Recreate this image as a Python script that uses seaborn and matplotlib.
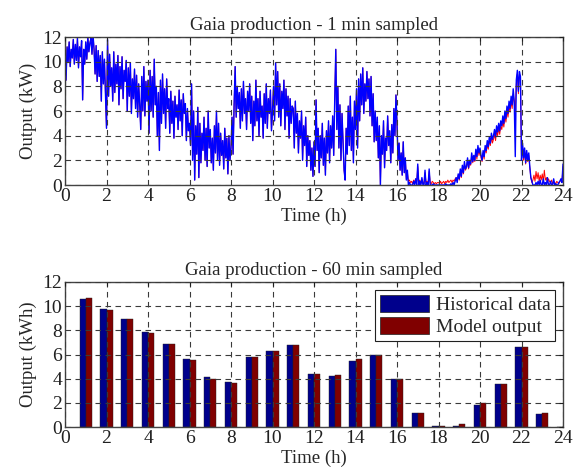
import numpy as np
import pandas as pd
import matplotlib
matplotlib.use("Agg")
import matplotlib.pyplot as plt
from matplotlib.patches import Patch
import seaborn as sns

# ---------------- data ----------------
# 1-min sampled production, every 0.05 h (3 min)
time_h = np.arange(481) / 20.0

historical_kw = [
    10.5, 8.5, 11.2, 10.0, 11.6, 9.6, 11.0, 10.3, 11.8, 9.8, 11.4, 10.1, 11.9, 9.5, 11.2, 10.4, 11.7, 6.9, 11.0, 9.8,   # 0
    11.6, 10.2, 12.0, 10.8, 11.5, 11.9, 10.6, 12.2, 11.0, 9.0, 11.3, 8.4, 10.9, 8.8, 10.5, 6.8, 10.8, 8.2, 10.2, 7.5,  # 1
    4.6, 11.8, 7.2, 10.6, 8.0, 9.5, 6.8, 10.8, 7.5, 9.8, 8.2, 10.5, 6.5, 9.6, 7.8, 10.4, 7.0, 9.3, 8.4, 10.1,          # 2
    6.0, 9.5, 7.2, 9.9, 5.8, 8.6, 7.0, 9.4, 6.2, 8.9, 5.5, 8.2, 6.5, 4.5, 8.8, 6.0, 9.6, 5.6, 8.4, 6.8,                # 3
    8.5, 4.2, 9.3, 6.0, 8.8, 5.5, 10.2, 6.5, 8.0, 4.0, 7.5, 2.8, 8.5, 5.0, 9.0, 5.8, 7.8, 4.6, 8.6, 6.2,               # 4
    7.0, 4.2, 7.6, 5.0, 6.8, 3.8, 7.2, 5.5, 6.5, 4.5, 7.7, 5.2, 6.9, 4.0, 7.4, 5.8, 6.6, 3.6, 6.2, 4.4,                # 5
    5.0, 3.2, 8.2, 2.0, 6.0, 0.4, 4.8, 2.5, 6.3, 0.6, 5.0, 1.8, 4.2, 2.8, 5.5, 2.0, 4.6, 1.5, 6.0, 3.0,                # 6
    4.5, 1.8, 3.8, 1.2, 4.8, 2.6, 6.0, 2.0, 5.0, 1.6, 4.2, 2.4, 3.6, 1.3, 4.6, 2.2, 3.8, 0.9, 4.0, 2.0,                # 7
    3.0, 5.5, 2.5, 6.5, 9.6, 5.5, 8.0, 6.2, 7.5, 4.6, 7.8, 5.2, 8.4, 5.8, 7.0, 4.5, 7.6, 6.0, 8.2, 5.0,                # 8
    7.2, 3.6, 6.8, 4.8, 8.5, 5.2, 7.0, 4.0, 7.6, 5.5, 6.4, 3.8, 7.4, 5.0, 8.2, 4.6, 7.0, 5.8, 7.7, 4.4,                # 9
    6.0, 8.0, 5.2, 9.9, 6.5, 9.2, 5.5, 8.2, 4.8, 7.6, 6.2, 8.5, 4.5, 7.8, 5.6, 7.2, 3.8, 7.0, 5.0, 6.4,                # 10
    6.2, 3.0, 6.8, 4.2, 5.8, 2.6, 5.2, 3.8, 6.0, 2.0, 4.8, 3.2, 5.5, 1.5, 4.0, 2.4, 3.6, 1.2, 3.0, 0.7,                # 11
    3.5, 1.5, 6.9, 2.8, 4.6, 1.0, 4.0, 2.2, 5.0, 1.6, 3.8, 0.8, 4.4, 2.6, 5.2, 1.8, 4.8, 3.0, 5.6, 2.4,                # 12
    7.0, 11.0, 4.5, 8.0, 3.0, 6.5, 2.0, 5.8, 3.6, 1.2, 0.4, 4.6, 2.5, 6.4, 3.2, 7.2, 2.8, 5.5, 1.8, 6.8,               # 13
    4.5, 7.8, 3.0, 8.6, 5.2, 9.0, 6.5, 9.5, 5.8, 8.2, 6.8, 9.2, 7.0, 8.6, 5.6, 8.8, 4.8, 7.4, 3.5, 6.0,                # 14
    3.6, 5.5, 2.2, 4.8, 0.0, 4.0, 2.5, 5.2, 1.4, 3.8, 2.8, 5.6, 3.2, 4.4, 1.8, 4.9, 2.6, 6.2, 4.0, 7.3,                # 15
    5.0, 2.0, 3.4, 1.2, 2.6, 0.8, 3.5, 1.0, 2.2, 0.4, 1.2, 0.0, 0.2, 0.0, 0.0, 0.0, 0.3, 0.0, 0.5, 0.0,                # 16
    1.7, 0.0, 0.3, 0.0, 0.6, 0.0, 0.0, 1.2, 0.0, 0.2, 0.0, 1.3, 0.0, 0.0, 0.0, 0.1, 0.0, 0.0, 0.0, 0.0,                # 17
    0.0, 0.0, 0.0, 0.0, 0.0, 0.0, 0.0, 0.1, 0.0, 0.0, 0.0, 0.0, 0.1, 0.0, 0.2, 0.0, 0.3, 0.6, 0.2, 0.9,                # 18
    0.5, 1.3, 0.7, 1.6, 1.0, 1.9, 1.3, 1.5, 2.2, 1.4, 2.0, 1.7, 2.6, 1.9, 2.4, 2.0, 2.9, 2.3, 3.2, 2.6,                # 19
    3.0, 2.4, 2.0, 2.8, 2.3, 3.2, 2.8, 3.6, 3.1, 3.9, 3.4, 4.2, 3.7, 4.0, 4.5, 3.9, 4.8, 4.3, 5.0, 4.4,                # 20
    5.2, 4.8, 5.6, 5.0, 6.0, 5.4, 6.4, 5.8, 6.8, 6.2, 7.2, 6.5, 7.8, 6.8, 2.3, 8.5, 9.3, 7.6, 9.2, 8.8,                # 21
    2.0, 3.4, 2.2, 3.0, 1.8, 2.8, 2.0, 2.6, 1.5, 0.6, 0.3, 0.0, 0.0, 0.0, 0.2, 0.0, 0.3, 0.0, 0.4, 0.0,                # 22
    0.0, 0.5, 0.0, 0.2, 0.0, 0.6, 0.0, 0.0, 0.3, 0.0, 0.0, 0.5, 0.0, 0.1, 0.0, 0.0, 0.2, 0.3, 0.5, 0.2,                # 23
    1.7,
]

model_kw = [
    10.5, 8.5, 11.2, 10.0, 11.6, 9.6, 11.0, 10.3, 11.8, 9.8, 11.4, 10.1, 11.9, 9.5, 11.2, 10.4, 11.7, 6.9, 11.0, 9.8,
    11.6, 10.2, 12.0, 10.8, 11.5, 11.9, 10.6, 12.2, 11.0, 9.0, 11.3, 8.4, 10.9, 8.8, 10.5, 6.8, 10.8, 8.2, 10.2, 7.5,
    4.6, 11.8, 7.2, 10.6, 8.0, 9.5, 6.8, 10.8, 7.5, 9.8, 8.2, 10.5, 6.5, 9.6, 7.8, 10.4, 7.0, 9.3, 8.4, 10.1,
    6.0, 9.5, 7.2, 9.9, 5.8, 8.6, 7.0, 9.4, 6.2, 8.9, 5.5, 8.2, 6.5, 4.5, 8.8, 6.0, 9.6, 5.6, 8.4, 6.8,
    8.5, 4.2, 9.3, 6.0, 8.8, 5.5, 10.2, 6.5, 8.0, 4.0, 7.5, 2.8, 8.5, 5.0, 9.0, 5.8, 7.8, 4.6, 8.6, 6.2,
    7.0, 4.2, 7.6, 5.0, 6.8, 3.8, 7.2, 5.5, 6.5, 4.5, 7.7, 5.2, 6.9, 4.0, 7.4, 5.8, 6.6, 3.6, 6.2, 4.4,
    5.0, 3.2, 8.2, 2.0, 6.0, 0.4, 4.8, 2.5, 6.3, 0.6, 5.0, 1.8, 4.2, 2.8, 5.5, 2.0, 4.6, 1.5, 6.0, 3.0,
    4.5, 1.8, 3.8, 1.2, 4.8, 2.6, 6.0, 2.0, 5.0, 1.6, 4.2, 2.4, 3.6, 1.3, 4.6, 2.2, 3.8, 0.9, 4.0, 2.0,
    3.0, 5.5, 2.5, 6.5, 9.6, 5.5, 8.0, 6.2, 7.5, 4.6, 7.8, 5.2, 8.4, 5.8, 7.0, 4.5, 7.6, 6.0, 8.2, 5.0,
    7.2, 3.6, 6.8, 4.8, 8.5, 5.2, 7.0, 4.0, 7.6, 5.5, 6.4, 3.8, 7.4, 5.0, 8.2, 4.6, 7.0, 5.8, 7.7, 4.4,
    6.0, 8.0, 5.2, 9.9, 6.5, 9.2, 5.5, 8.2, 4.8, 7.6, 6.2, 8.5, 4.5, 7.8, 5.6, 7.2, 3.8, 7.0, 5.0, 6.4,
    6.2, 3.0, 6.8, 4.2, 5.8, 2.6, 5.2, 3.8, 6.0, 2.0, 4.8, 3.2, 5.5, 1.5, 4.0, 2.4, 3.6, 1.2, 3.0, 0.7,
    3.5, 1.5, 6.9, 2.8, 4.6, 1.0, 4.0, 2.2, 5.0, 1.6, 3.8, 0.8, 4.4, 2.6, 5.2, 1.8, 4.8, 3.0, 5.6, 2.4,
    7.0, 11.0, 4.5, 8.0, 3.0, 6.5, 2.0, 5.8, 3.6, 1.2, 0.4, 4.6, 2.5, 6.4, 3.2, 7.2, 2.8, 5.5, 1.8, 6.8,
    4.5, 7.8, 3.0, 8.6, 5.2, 9.0, 6.5, 9.5, 5.8, 8.2, 6.8, 9.2, 7.0, 8.6, 5.6, 8.8, 4.8, 7.4, 3.5, 6.0,
    3.6, 5.5, 2.2, 4.8, 0.0, 4.0, 2.5, 5.2, 1.4, 3.8, 2.8, 5.6, 3.2, 4.4, 1.8, 4.9, 2.6, 6.2, 4.0, 7.3,
    5.0, 2.0, 3.4, 1.2, 2.6, 0.8, 3.5, 1.0, 2.2, 0.5, 1.0, 0.3, 0.4, 0.2, 0.3, 0.1, 0.4, 0.2, 0.5, 0.2,
    1.5, 0.2, 0.4, 0.1, 0.5, 0.2, 0.1, 1.0, 0.2, 0.3, 0.1, 1.1, 0.2, 0.1, 0.3, 0.2, 0.1, 0.2, 0.1, 0.2,
    0.2, 0.1, 0.3, 0.1, 0.2, 0.3, 0.1, 0.3, 0.2, 0.4, 0.2, 0.3, 0.4, 0.2, 0.4, 0.3, 0.5, 0.6, 0.4, 0.8,
    0.4, 1.1, 0.6, 1.4, 0.9, 1.7, 1.2, 1.4, 2.0, 1.3, 1.8, 1.6, 2.4, 1.8, 2.2, 1.9, 2.7, 2.1, 3.0, 2.4,
    2.8, 2.2, 1.9, 2.6, 2.1, 3.0, 2.6, 3.3, 2.9, 3.6, 3.2, 3.9, 3.4, 3.7, 4.1, 3.6, 4.4, 4.0, 4.6, 4.1,
    4.8, 4.5, 5.2, 4.7, 5.6, 5.1, 6.0, 5.5, 6.4, 5.9, 6.8, 6.2, 7.4, 6.6, 6.0, 8.2, 9.0, 7.4, 9.0, 8.6,
    2.2, 3.2, 2.0, 2.8, 1.7, 2.6, 1.9, 2.4, 1.4, 0.6, 0.2, 0.4, 0.8, 0.3, 1.1, 0.5, 1.0, 0.3, 0.8, 0.4,
    0.9, 0.3, 1.2, 0.4, 0.6, 0.2, 0.5, 0.3, 0.2, 0.4, 0.1, 0.3, 0.2, 0.1, 0.3, 0.2, 0.1, 0.3, 0.4, 0.3,
    1.5,
]

# 60-min sampled energy
hours = list(range(1, 25))
historical_kwh = [10.6, 9.8, 8.9, 7.9, 6.9, 5.6, 4.1, 3.75, 5.8, 6.3, 6.75, 4.4,
                  4.2, 5.5, 5.95, 4.0, 1.2, 0.05, 0.1, 1.85, 3.55, 6.6, 1.1, 0.02]
model_kwh = [10.7, 9.7, 8.9, 7.8, 6.9, 5.55, 4.0, 3.65, 5.8, 6.3, 6.75, 4.4,
             4.3, 5.6, 6.0, 4.0, 1.2, 0.1, 0.25, 2.0, 3.55, 6.6, 1.2, 0.05]

series_names = ["Historical data", "Model output"]
xticks = list(range(0, 25, 2))
yticks = list(range(0, 13, 2))

# ---------------- style ----------------
sns.set_theme(style="white")
plt.rcParams["font.family"] = ["Liberation Serif", "DejaVu Serif"]

fig = plt.figure(figsize=(5.78, 4.74), dpi=100)
ax1 = fig.add_axes([65 / 578, 1 - 185 / 474, 498 / 578, 148 / 474])
ax2 = fig.add_axes([65 / 578, 1 - 427 / 474, 498 / 578, 145 / 474])

model_df = pd.DataFrame({"t": time_h, "v": model_kw})
hist_df = pd.DataFrame({"t": time_h, "v": historical_kw})
sns.lineplot(data=model_df, x="t", y="v", ax=ax1, color="#ff0000", lw=0.7,
             estimator=None, sort=False, legend=False)
sns.lineplot(data=hist_df, x="t", y="v", ax=ax1, color="#0000ff", lw=1.0,
             estimator=None, sort=False, legend=False)

bar_df = pd.DataFrame({"hour": hours + hours,
                       "value": historical_kwh + model_kwh,
                       "series": [series_names[0]] * 24 + [series_names[1]] * 24})
bar_colors = ["#00008c", "#800000"]
sns.barplot(data=bar_df, x="hour", y="value", hue="series", native_scale=True,
            width=0.6, palette=bar_colors, edgecolor="#202020", linewidth=0.3,
            saturation=1, ax=ax2, legend=False)

titles = ["Gaia production - 1 min sampled", "Gaia production - 60 min sampled"]
ylabels = ["Output (kW)", "Output (kWh)"]
for ax, title, yl in zip([ax1, ax2], titles, ylabels):
    ax.set_xlim(0, 24)
    ax.set_ylim(0, 12)
    ax.set_xticks(xticks)
    ax.set_yticks(yticks)
    ax.set_xticklabels([str(v) for v in xticks], fontsize=14)
    ax.set_yticklabels([str(v) for v in yticks], fontsize=14)
    ax.tick_params(direction="in", length=3, width=0.8, top=True, right=True,
                   pad=2, colors="#202020")
    ax.grid(True, color="#3a3a3a", linestyle=(0, (5, 4)), linewidth=0.8)
    ax.set_axisbelow(False)
    for sp in ax.spines.values():
        sp.set_color("#444444")
        sp.set_linewidth(1.0)
    ax.set_title(title, fontsize=13.5, pad=5)
    ax.set_xlabel("Time (h)", fontsize=13.5, labelpad=2)
    ax.set_ylabel(yl, fontsize=13.5, labelpad=4)

handles = [Patch(facecolor=c, edgecolor="#202020", linewidth=0.5) for c in bar_colors]
leg = ax2.legend(handles, series_names, loc="upper right", fontsize=14,
                 frameon=True, fancybox=False, framealpha=1, edgecolor="#202020",
                 handlelength=2.5, handleheight=1.0, borderaxespad=0.4,
                 labelspacing=0.15, handletextpad=0.35, borderpad=0.25)
leg.get_frame().set_linewidth(0.8)

fig.savefig("out.png", dpi=100)
